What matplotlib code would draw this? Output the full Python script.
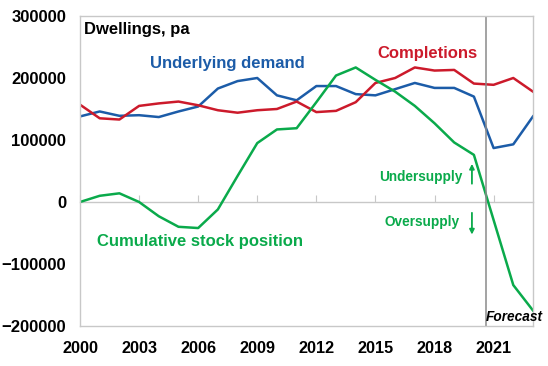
import numpy as np
import matplotlib.pyplot as plt

# annual data, 2000-2023
years = np.arange(2000, 2024)
demand = [138000, 146000, 139000, 140000, 137000, 146000, 154000, 183000, 195000, 200000,
          172000, 164000, 187000, 187000, 174000, 172000, 182000, 192000, 184000, 184000,
          170000, 87000, 93000, 138000]
completions = [157000, 135000, 133000, 155000, 159000, 162000, 156000, 148000, 144000, 148000,
               150000, 162000, 145000, 147000, 161000, 192000, 200000, 217000, 212000, 213000,
               191000, 189000, 200000, 178000]
stock = [0, 10000, 14000, 0, -23000, -40000, -42000, -12000, 42000, 95000,
         117000, 119000, 161000, 204000, 217000, 197000, 178000, 155000, 127000, 96000,
         76000, -29000, -134000, -175000]
xticks = [2000, 2003, 2006, 2009, 2012, 2015, 2018, 2021]
yticks = [-200000, -100000, 0, 100000, 200000, 300000]
forecast_start = 2020.6

BLUE = "#1c5ca8"
RED = "#cc1a2b"
GREEN = "#0aaa4b"
GRAY = "#c8c8c8"

plt.rcParams['font.family'] = ['Liberation Sans', 'DejaVu Sans']
plt.rcParams['font.weight'] = 'bold'

fig = plt.figure(figsize=(5.48, 3.66), dpi=100)
ax = fig.add_axes([0.146, 0.1093, 0.8266, 0.847])

ax.plot(years, demand, color=BLUE, lw=1.8)
ax.plot(years, completions, color=RED, lw=1.8)
ax.plot(years, stock, color=GREEN, lw=1.8)

ax.set_xlim(2000, 2023)
ax.set_ylim(-200000, 300000)
ax.set_xticks(xticks)
ax.set_yticks(yticks)
ax.tick_params(axis='x', length=0, labelsize=11.7, pad=11)
ax.tick_params(axis='y', length=0, labelsize=12, pad=10)
for lab in ax.get_xticklabels() + ax.get_yticklabels():
    lab.set_fontweight('bold')
for s in ax.spines.values():
    s.set_color(GRAY)
    s.set_linewidth(1.0)

# zero axis with upward tick marks
sec = ax.secondary_xaxis(0, transform=ax.transData)
sec.set_xticks(xticks)
sec.tick_params(direction='in', length=5, color=GRAY, labelbottom=False)
sec.spines['bottom'].set_color(GRAY)
sec.spines['bottom'].set_linewidth(1.0)

ax.axvline(forecast_start, color="#8a8a8a", lw=1.1)

ax.text(2000.2, 279000, "Dwellings, pa", fontsize=12, fontweight='bold', color='black',
        ha='left', va='center')
ax.text(2003.55, 224000, "Underlying demand", fontsize=12, fontweight='bold', color=BLUE,
        ha='left', va='center')
ax.text(2015.1, 240000, "Completions", fontsize=12, fontweight='bold', color=RED,
        ha='left', va='center')
ax.text(2000.85, -64000, "Cumulative stock position", fontsize=12, fontweight='bold',
        color=GREEN, ha='left', va='center')
ax.text(2019.4, 40000, "Undersupply", fontsize=9.8, fontweight='bold', color=GREEN,
        ha='right', va='center')
ax.text(2019.25, -32000, "Oversupply", fontsize=9.8, fontweight='bold', color=GREEN,
        ha='right', va='center')
ax.annotate("", xy=(2019.9, 66000), xytext=(2019.9, 25000),
            arrowprops=dict(arrowstyle='-|>', color=GREEN, lw=1.3, mutation_scale=7))
ax.annotate("", xy=(2019.9, -57000), xytext=(2019.9, -13000),
            arrowprops=dict(arrowstyle='-|>', color=GREEN, lw=1.3, mutation_scale=7))
ax.text(forecast_start, -185000, "Forecast", fontsize=9.8, fontweight='bold', style='italic',
        color='black', ha='left', va='center', clip_on=False)

fig.savefig("out.png", dpi=100)
